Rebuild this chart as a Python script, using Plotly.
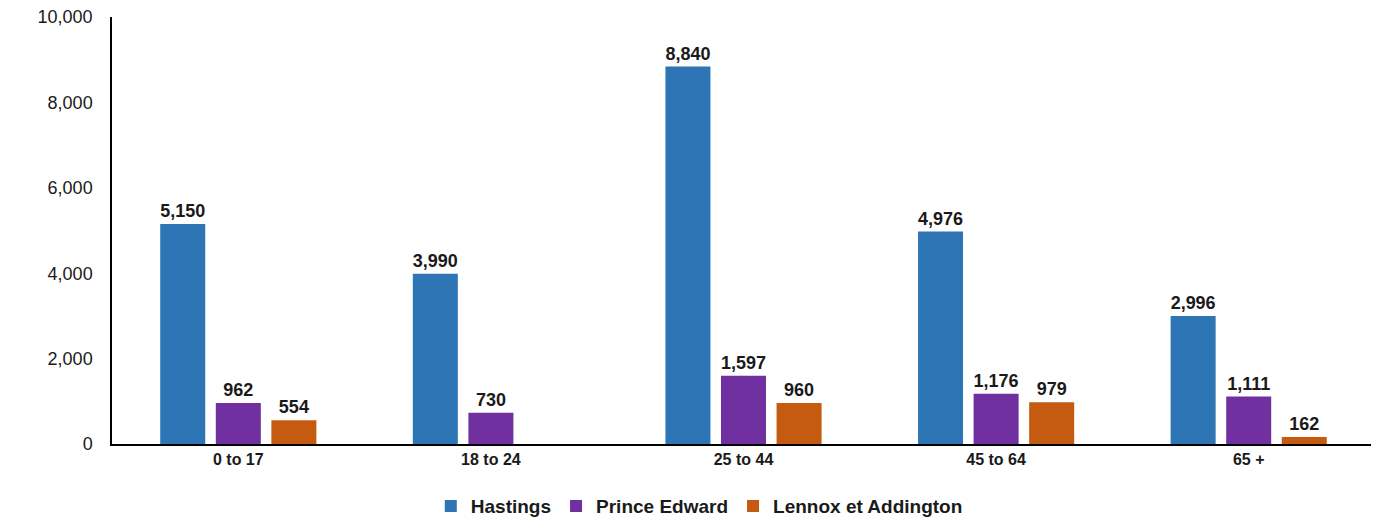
import plotly.graph_objects as go

age_groups = ["0 to 17", "18 to 24", "25 to 44", "45 to 64", "65 +"]
hastings = [5150, 3990, 8840, 4976, 2996]
prince_edward = [962, 730, 1597, 1176, 1111]
lennox_addington = [554, None, 960, 979, 162]

series = [
    ("Hastings", hastings, "#2E75B6"),
    ("Prince Edward", prince_edward, "#7030A0"),
    ("Lennox et Addington", lennox_addington, "#C55A11"),
]

fig = go.Figure()
for name, values, color in series:
    fig.add_trace(
        go.Bar(
            x=age_groups,
            y=values,
            name=f"<b>{name}</b>",
            marker=dict(color=color, line=dict(width=0)),
            text=[f"{v:,}" if v is not None else "" for v in values],
            textposition="outside",
            textfont=dict(family="Liberation Sans, Arial", size=18, color="#1a1a1a"),
            texttemplate="<b>%{text}</b>",
            cliponaxis=False,
        )
    )

# page body has an 8px margin, so offsets are compensated here
fig.update_layout(
    width=1379,
    height=520,
    barmode="group",
    bargap=0.34,
    bargroupgap=0.19,
    plot_bgcolor="white",
    paper_bgcolor="white",
    margin=dict(l=104, r=12, t=9, b=84, autoexpand=False),
    font=dict(family="Liberation Sans, Arial", color="#1a1a1a"),
    legend=dict(
        orientation="h",
        x=0.465,
        xanchor="center",
        xref="paper",
        y=0.042,
        yref="container",
        yanchor="middle",
        font=dict(size=19),
        itemwidth=30,
        traceorder="normal",
    ),
)
fig.update_xaxes(
    showline=True,
    linecolor="black",
    linewidth=1.5,
    ticks="",
    tickfont=dict(size=16),
    tickprefix="<b>",
    ticksuffix="</b>",
    automargin=False,
)
fig.update_yaxes(
    range=[0, 10000],
    dtick=2000,
    tickformat=",",
    showgrid=False,
    zeroline=False,
    showline=True,
    linecolor="black",
    linewidth=1.5,
    ticks="",
    tickfont=dict(size=18),
    ticklabelstandoff=14,
    ticklabeloverflow="allow",
    automargin=False,
)

fig.write_html("out.html")
